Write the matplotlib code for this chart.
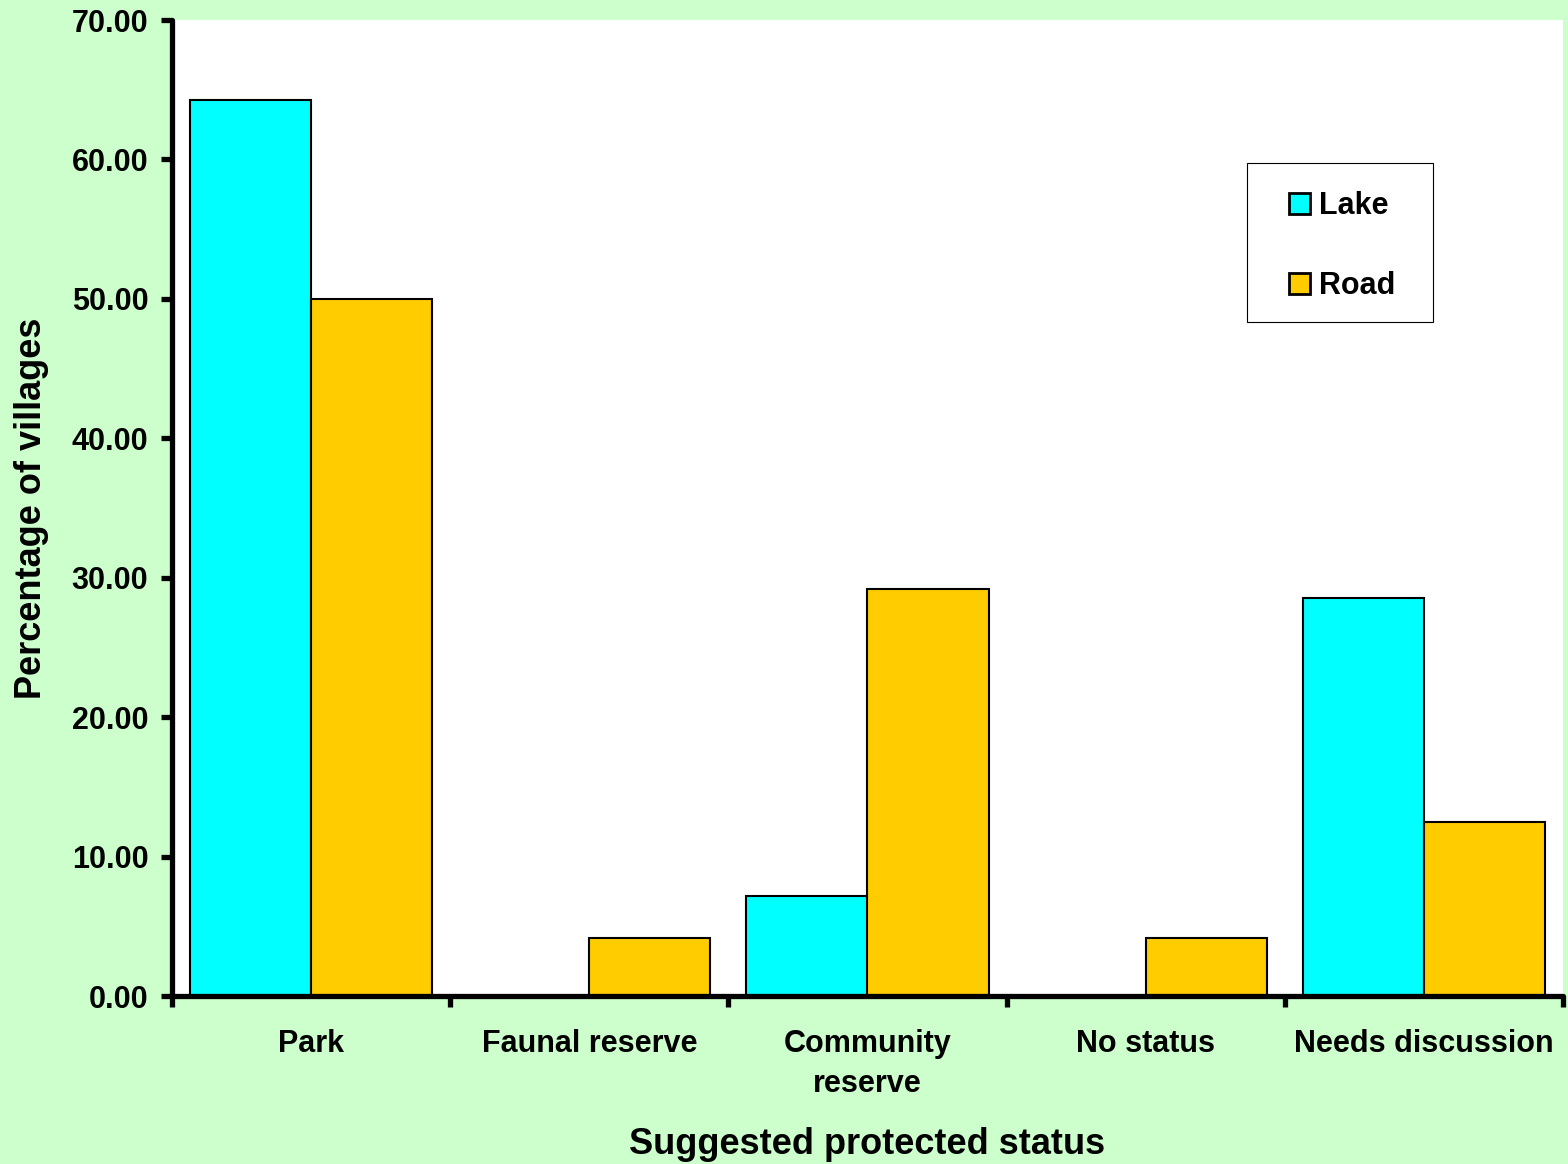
import matplotlib
matplotlib.use("Agg")
import matplotlib.pyplot as plt
from matplotlib.patches import Rectangle
import numpy as np

categories = ["Park", "Faunal reserve", "Community\nreserve", "No status", "Needs discussion"]
lake = [64.29, 0.0, 7.14, 0.0, 28.57]
road = [50.00, 4.17, 29.17, 4.17, 12.50]
series_names = ["Lake", "Road"]
yticks = [0, 10, 20, 30, 40, 50, 60, 70]

plt.rcParams['font.family'] = ['Liberation Sans', 'DejaVu Sans']
plt.rcParams['font.weight'] = 'bold'

W, H = 1568, 1164
fig = plt.figure(figsize=(W / 100, H / 100), dpi=100, facecolor="#CCFFCC")
ax = fig.add_axes([172 / W, 1 - 996 / H, (1563 - 172) / W, 976 / H])
ax.set_facecolor("white")

x = np.arange(len(categories))
bw = 0.435
ax.bar(x - bw / 2, lake, bw, color="#00FFFF", edgecolor="black", linewidth=1.5, label=series_names[0], zorder=2)
ax.bar(x + bw / 2, road, bw, color="#FFCC00", edgecolor="black", linewidth=1.5, label=series_names[1], zorder=2)

ax.set_xlim(-0.5, len(categories) - 0.5)
ax.set_ylim(0, 70)

for s in ["top", "right"]:
    ax.spines[s].set_visible(False)
for s in ["left", "bottom"]:
    ax.spines[s].set_linewidth(3.8)
    ax.spines[s].set_capstyle("round")
    ax.spines[s].set_zorder(3)

ax.set_yticks(yticks)
ax.set_yticklabels([f"{v:.2f}" for v in yticks])
ax.tick_params(axis="y", direction="out", length=8, width=3.8, pad=9, labelsize=22)

ax.set_xticks(np.arange(len(categories) + 1) - 0.5)
ax.set_xticklabels([])
ax.tick_params(axis="x", which="major", direction="out", length=8, width=3.8)
ax.set_xticks(x, minor=True)
ax.set_xticklabels(categories, minor=True, fontsize=22, linespacing=1.42)
ax.tick_params(axis="x", which="minor", length=0, pad=24)

ax.set_xlabel("Suggested protected status", fontsize=26, fontweight="bold")
ax.set_ylabel("Percentage of villages", fontsize=26, fontweight="bold")
ax.xaxis.label.set_verticalalignment("center")
ax.yaxis.label.set_verticalalignment("center")
ax.xaxis.set_label_coords(0.5, -(1144 - 996) / 976, transform=ax.transAxes)
ax.yaxis.set_label_coords(-(172 - 32) / 1391, 0.5, transform=ax.transAxes)

# legend frame
ax.add_patch(Rectangle((1247 / W, 1 - 322 / H), (1433 - 1247) / W, (322 - 163) / H,
                       transform=fig.transFigure, facecolor="white", edgecolor="black",
                       linewidth=0.8, zorder=4, clip_on=False))
leg = ax.legend(loc="center left", bbox_to_anchor=(1289 / W, 1 - 246 / H), bbox_transform=fig.transFigure,
                fontsize=22, frameon=False,
                handlelength=0.68, handleheight=0.68, handletextpad=0.3, labelspacing=1.65,
                borderpad=0, borderaxespad=0)
leg.set_zorder(5)
for t in leg.get_texts():
    t.set_fontweight("bold")
for h in leg.legend_handles:
    h.set_linewidth(2)

fig.savefig("out.png", dpi=100, facecolor=fig.get_facecolor())
